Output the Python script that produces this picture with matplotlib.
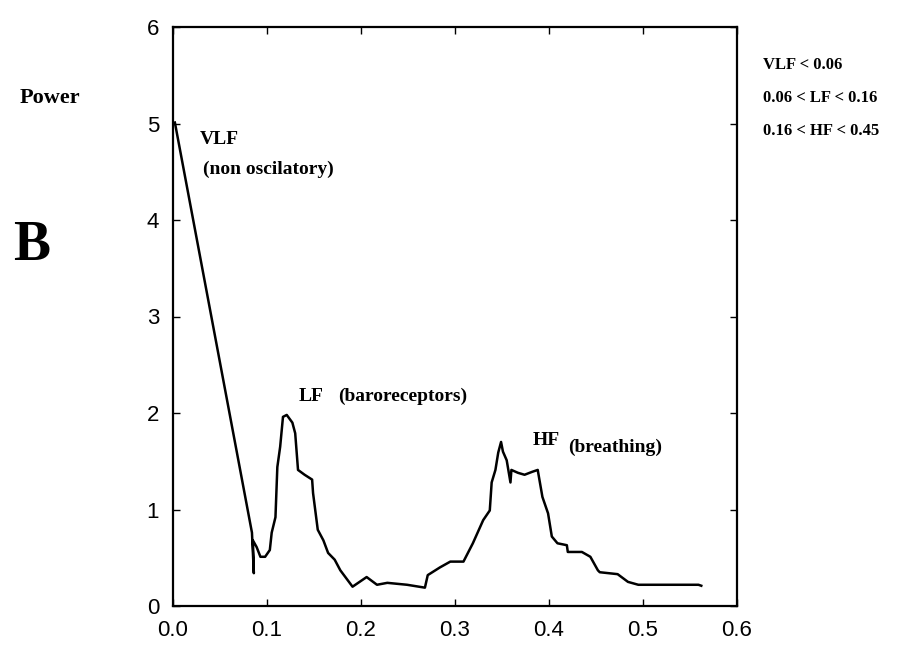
import matplotlib
matplotlib.use("Agg")
import matplotlib.pyplot as plt
import numpy as np

# spectrum (frequency, power)
freq = [0.002, 0.084, 0.086, 0.085, 0.089, 0.093, 0.098, 0.103, 0.105, 0.109,
        0.111, 0.114, 0.117, 0.121, 0.127, 0.130, 0.133, 0.140, 0.148, 0.149,
        0.154, 0.160, 0.165, 0.172, 0.178, 0.191, 0.206, 0.217, 0.228, 0.249,
        0.268, 0.271, 0.284, 0.295, 0.309, 0.319, 0.330, 0.337, 0.339, 0.343,
        0.346, 0.349, 0.351, 0.355, 0.359, 0.360, 0.367, 0.374, 0.382, 0.388,
        0.393, 0.399, 0.403, 0.409, 0.419, 0.420, 0.435, 0.444, 0.452, 0.454,
        0.473, 0.484, 0.495, 0.559, 0.562]
power = [5.01, 0.76, 0.34, 0.68, 0.61, 0.51, 0.51, 0.58, 0.76, 0.92,
         1.44, 1.65, 1.96, 1.98, 1.90, 1.79, 1.41, 1.36, 1.31, 1.17,
         0.79, 0.68, 0.55, 0.48, 0.37, 0.20, 0.30, 0.22, 0.24, 0.22,
         0.19, 0.32, 0.40, 0.46, 0.46, 0.65, 0.89, 0.99, 1.28, 1.41,
         1.59, 1.70, 1.60, 1.51, 1.28, 1.41, 1.38, 1.36, 1.39, 1.41,
         1.13, 0.96, 0.72, 0.65, 0.63, 0.56, 0.56, 0.51, 0.37, 0.35,
         0.33, 0.25, 0.22, 0.22, 0.21]

xticks = [0.0, 0.1, 0.2, 0.3, 0.4, 0.5, 0.6]
yticks = [0, 1, 2, 3, 4, 5, 6]
bands = ["VLF < 0.06", "0.06 < LF < 0.16", "0.16 < HF < 0.45"]

W, H = 906, 646
fig = plt.figure(figsize=(W / 100, H / 100), dpi=100)
ax = fig.add_axes([173 / W, 40 / H, 564 / W, 579 / H])

ax.plot(freq, power, color="black", lw=1.8)
ax.set_xlim(0, 0.6)
ax.set_ylim(0, 6)
ax.set_xticks(xticks)
ax.set_xticklabels(["%.1f" % t for t in xticks])
ax.set_yticks(yticks)
for s in ax.spines.values():
    s.set_linewidth(1.6)
ax.tick_params(direction="in", length=5, width=1, top=True, right=True,
               labelsize=16, pad=10)
for lab in ax.get_xticklabels() + ax.get_yticklabels():
    lab.set_family("Liberation Sans")

serif = dict(family="Liberation Serif", weight="bold", color="black")
ax.text(0.028, 4.83, "VLF", fontsize=14, va="center", **serif)
ax.text(0.032, 4.52, "(non oscilatory)", fontsize=14, va="center", **serif)
ax.text(0.134, 2.17, "LF", fontsize=14, va="center", **serif)
ax.text(0.176, 2.17, "(baroreceptors)", fontsize=14, va="center", **serif)
ax.text(0.383, 1.71, "HF", fontsize=14, va="center", **serif)
ax.text(0.420, 1.64, "(breathing)", fontsize=14, va="center", **serif)

fig.text(20 / W, 1 - 98 / H, "Power", fontsize=16, va="center", **serif)
fig.text(13 / W, 1 - 246 / H, "B", fontsize=40, va="center", **serif)
for i, b in enumerate(bands):
    fig.text(763 / W, 1 - (65 + 33 * i) / H, b, fontsize=12, va="center", **serif)

fig.savefig("out.png", dpi=100)
